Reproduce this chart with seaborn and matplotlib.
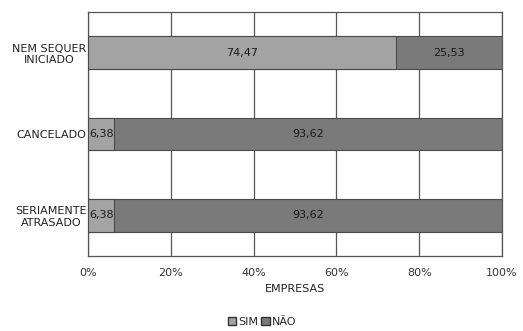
import matplotlib
matplotlib.use("Agg")
import matplotlib.pyplot as plt
import seaborn as sns
import pandas as pd
from matplotlib.patches import Patch

categories = ["NEM SEQUER\nINICIADO", "CANCELADO", "SERIAMENTE\nATRASADO"]
sim = [74.47, 6.38, 6.38]
nao = [25.53, 93.62, 93.62]
sim_labels = ["74,47", "6,38", "6,38"]
nao_labels = ["25,53", "93,62", "93,62"]
xticks = [0, 20, 40, 60, 80, 100]
xtick_labels = ["0%", "20%", "40%", "60%", "80%", "100%"]

df = pd.DataFrame({"cat": categories, "sim": sim, "nao": nao})
df["total"] = df["sim"] + df["nao"]

sns.set_style("white")
plt.rcParams["font.family"] = ["DejaVu Sans"]

fig = plt.figure(figsize=(5.23, 3.31), dpi=100)
ax = fig.add_axes([88/523, 1 - 256/331, 414/523, 244/331])

c_sim = "#a3a3a3"
c_nao = "#7a7a7a"
fs = 8

sns.barplot(data=df, y="cat", x="total", color=c_nao, orient="h", width=0.4,
            edgecolor="#4a4a4a", linewidth=0.8, ax=ax, saturation=1, zorder=3)
sns.barplot(data=df, y="cat", x="sim", color=c_sim, orient="h", width=0.4,
            edgecolor="#4a4a4a", linewidth=0.8, ax=ax, saturation=1, zorder=4)

for i in range(len(categories)):
    ax.text(sim[i] / 2, i, sim_labels[i], ha="center", va="center",
            fontsize=fs, color="#1a1a1a", zorder=5)
    ax.text(sim[i] + nao[i] / 2, i, nao_labels[i], ha="center", va="center",
            fontsize=fs, color="#1a1a1a", zorder=5)

ax.set_xlim(0, 100)
ax.set_ylim(2.5, -0.5)
ax.set_xticks(xticks)
ax.set_xticklabels(xtick_labels, fontsize=fs, color="#333333")
ax.tick_params(axis="x", length=3, color="#555555", pad=6)
ax.tick_params(axis="y", length=0, pad=1)
ax.set_yticks(range(len(categories)))
ax.set_yticklabels(categories, fontsize=fs, color="#222222", multialignment="center")
ax.grid(axis="x", color="#555555", linewidth=0.9, zorder=0)
ax.set_axisbelow(True)
for s in ax.spines.values():
    s.set_visible(True)
    s.set_color("#555555")
    s.set_linewidth(0.9)
ax.set_xlabel("EMPRESAS", fontsize=fs, color="#222222", labelpad=4)
ax.set_ylabel("")

handles = [Patch(facecolor=c_sim, edgecolor="#333333", label="SIM"),
           Patch(facecolor=c_nao, edgecolor="#333333", label="NÃO")]
fig.legend(handles=handles, loc="center", bbox_to_anchor=(262/523, 1 - 322/331),
           ncol=2, frameon=False, fontsize=fs, handlelength=0.8, handleheight=0.8,
           handletextpad=0.2, columnspacing=0.2)

fig.savefig("out.png", dpi=100)
